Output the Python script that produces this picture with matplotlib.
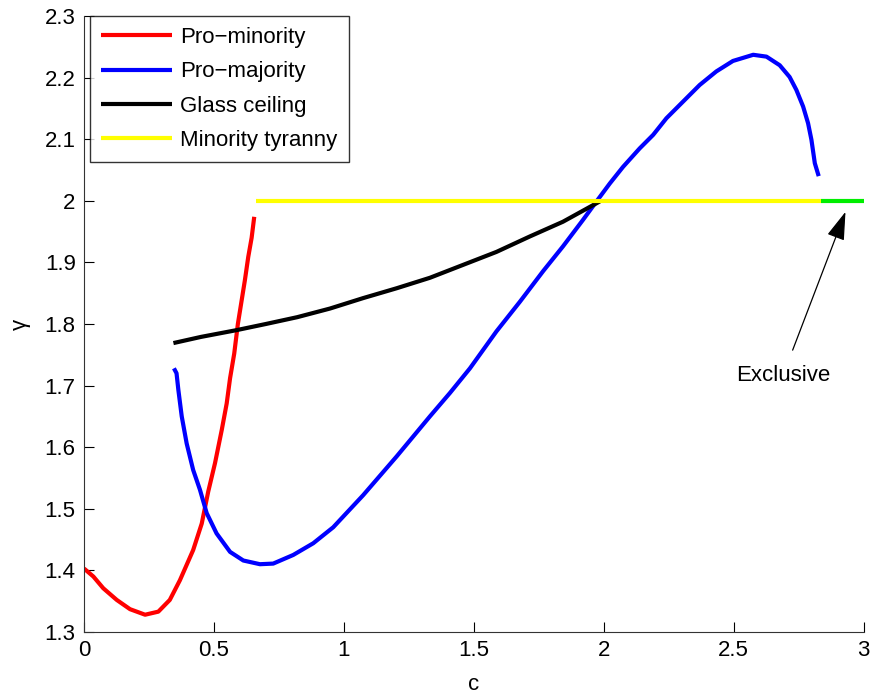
import matplotlib
matplotlib.use("Agg")
from matplotlib import pyplot as plt

plt.rcParams['font.family'] = ['Liberation Sans', 'DejaVu Sans']

# Pro-minority curve (red)
minority_c = [0.0, 0.036, 0.074, 0.126, 0.177, 0.235, 0.286, 0.33, 0.369, 0.42, 0.453, 0.478,
              0.504, 0.53, 0.549, 0.562, 0.578, 0.592, 0.619, 0.632, 0.645, 0.655]
minority_g = [1.403, 1.390, 1.371, 1.352, 1.337, 1.328, 1.333, 1.352, 1.384, 1.433, 1.476, 1.528,
              1.574, 1.628, 1.671, 1.712, 1.752, 1.800, 1.871, 1.909, 1.940, 1.974]

# Pro-majority curve (blue)
majority_c = [0.346, 0.356, 0.363, 0.376, 0.395, 0.42, 0.446, 0.472, 0.51, 0.562, 0.613, 0.677,
              0.728, 0.805, 0.882, 0.959, 1.074, 1.203, 1.331, 1.408, 1.485, 1.587,
              1.677, 1.767, 1.843, 1.92, 1.972, 2.023, 2.074, 2.138, 2.19, 2.241, 2.305,
              2.369, 2.433, 2.497, 2.575, 2.626, 2.677, 2.715, 2.741, 2.767, 2.786, 2.799,
              2.812, 2.827]
majority_g = [1.728, 1.720, 1.693, 1.650, 1.606, 1.563, 1.531, 1.493, 1.460, 1.430, 1.416, 1.410,
              1.411, 1.425, 1.444, 1.470, 1.522, 1.585, 1.650, 1.688, 1.728, 1.788,
              1.836, 1.886, 1.926, 1.969, 1.999, 2.028, 2.055, 2.085, 2.107, 2.134, 2.161,
              2.188, 2.210, 2.227, 2.237, 2.234, 2.220, 2.201, 2.180, 2.153, 2.126, 2.099,
              2.061, 2.040]

# Glass ceiling curve (black)
ceiling_c = [0.344, 0.45, 0.587, 0.7, 0.82, 0.946, 1.074, 1.203, 1.331, 1.459, 1.587, 1.715,
             1.843, 1.959, 1.985]
ceiling_g = [1.769, 1.779, 1.790, 1.800, 1.811, 1.825, 1.842, 1.858, 1.875, 1.896, 1.917, 1.942,
             1.966, 1.993, 1.999]

# Minority tyranny (yellow) and exclusive (green) segments
tyranny_c = [0.662, 2.835]
tyranny_g = [2.0, 2.0]
exclusive_c = [2.835, 3.0]
exclusive_g = [2.0, 2.0]

fig = plt.figure(figsize=(8.77, 6.98), dpi=100)
ax = fig.add_axes([0.0958, 0.0946, 0.889, 0.8825])

lw = 3.0
kw = dict(lw=lw, solid_joinstyle="round", solid_capstyle="butt")
ax.plot(minority_c, minority_g, color="#ff0000", label="Pro\u2212minority", **kw)
ax.plot(majority_c, majority_g, color="#0000ff", label="Pro\u2212majority", **kw)
ax.plot(ceiling_c, ceiling_g, color="#000000", label="Glass ceiling", **kw)
ax.plot(tyranny_c, tyranny_g, color="#ffff00", label="Minority tyranny", **kw)
ax.plot(exclusive_c, exclusive_g, color="#00ee00", **kw)

ax.annotate("Exclusive", xy=(2.93, 1.982), xytext=(2.69, 1.717),
            ha="center", va="center", fontsize=16,
            arrowprops=dict(arrowstyle="-|>,head_length=1.1,head_width=0.35",
                            color="black", lw=0.9, shrinkA=9, shrinkB=0))

ax.set_xlim(0, 3)
ax.set_ylim(1.3, 2.3)
ax.set_xticks([0, 0.5, 1, 1.5, 2, 2.5, 3])
ax.set_xticklabels(["0", "0.5", "1", "1.5", "2", "2.5", "3"])
ax.set_yticks([1.3, 1.4, 1.5, 1.6, 1.7, 1.8, 1.9, 2.0, 2.1, 2.2, 2.3])
ax.set_yticklabels(["1.3", "1.4", "1.5", "1.6", "1.7", "1.8", "1.9", "2", "2.1", "2.2", "2.3"])
ax.tick_params(direction="in", length=7, width=0.8, labelsize=16, pad=6)
ax.spines["top"].set_visible(False)
ax.spines["right"].set_visible(False)
for s in ("left", "bottom"):
    ax.spines[s].set_linewidth(0.8)
    ax.spines[s].set_color("#333333")

ax.set_xlabel("c", fontsize=16, labelpad=9)
ax.set_ylabel("\u03b3", fontsize=16, labelpad=10)

leg = ax.legend(loc="upper left", bbox_to_anchor=(0.008, 1.0), fontsize=16, frameon=True,
                fancybox=False, edgecolor="black", handlelength=3.2, borderaxespad=0.0,
                labelspacing=0.6, handletextpad=0.35, borderpad=0.5)
leg.get_frame().set_linewidth(1.0)

fig.savefig("out.png", dpi=100)
